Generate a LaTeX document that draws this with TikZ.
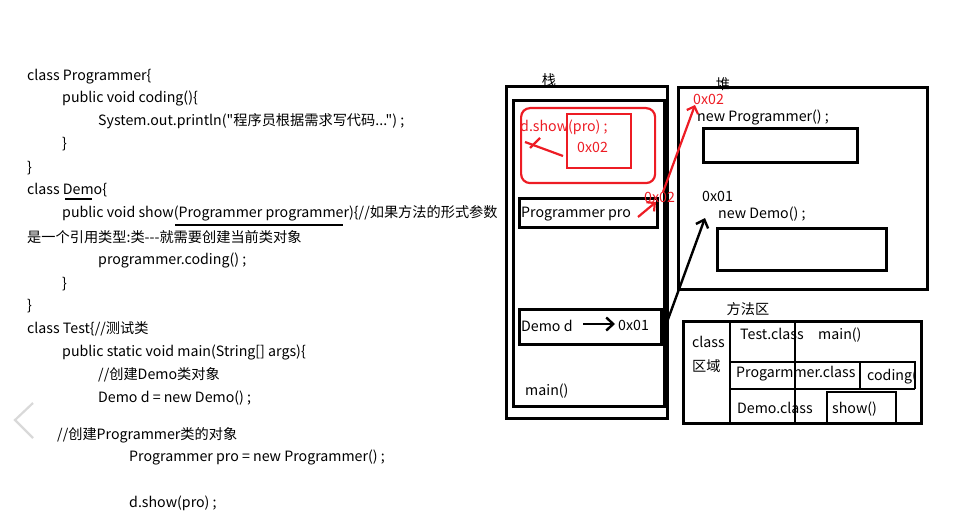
\documentclass[tikz,border=0pt]{standalone}
\usepackage{fontspec}
\newfontfamily\yh{Noto Sans CJK SC}
\usetikzlibrary{arrows.meta}
\definecolor{hred}{RGB}{237,28,36}
\begin{document}
\begin{tikzpicture}[x=1pt,y=-1pt,
  txt/.style={anchor=base west, inner sep=0pt, font=\yh\fontsize{14.2}{16}\selectfont},
  lbl/.style={anchor=center, inner sep=0pt, font=\yh\fontsize{14.2}{16}\selectfont},
  box/.style={draw, line width=2.6pt, inner sep=0pt, anchor=north west},
  rbox/.style={draw=hred, line width=2.2pt, inner sep=0pt, anchor=north west},
  bline/.style={line width=2.6pt},
  rline/.style={hred, line width=2.2pt},
  barrow/.style={line width=2.4pt, -{Straight Barb[length=7pt,width=13pt,line width=2.4pt]}},
  rarrow/.style={hred, line width=2.2pt, -{Straight Barb[length=6pt,width=12pt,line width=2.2pt]}},
  uline/.style={line width=1.8pt}]
\useasboundingbox (0,0) rectangle (967,524);

% ---------- code text ----------
\node[txt] (c1) at (27,80.5) {class Programmer\{};
\node[txt] (c2) at (62,103) {public void coding()\{};
\node[txt] (c3) at (98,126) {System.out.println("程序员根据需求写代码...") ;};
\node[txt] (c4) at (62,149) {\}};
\node[txt] (c5) at (27,172) {\}};
\node[txt] (c6) at (27,195) {class Demo\{};
\node[txt] (c7) at (62,218) {public void show(Programmer programmer)\{//如果方法的形式参数};
\node[txt] (c8) at (27,242) {是一个引用类型:类---就需要创建当前类对象};
\node[txt] (c9) at (98,264) {programmer.coding() ;};
\node[txt] (c10) at (62,288) {\}};
\node[txt] (c11) at (27,310) {\}};
\node[txt] (c12) at (27,333) {class Test\{//测试类};
\node[txt] (c13) at (62,356) {public static void main(String[] args)\{};
\node[txt] (c14) at (98,379) {//创建Demo类对象};
\node[txt] (c15) at (98,402) {Demo d = new Demo() ;};
\node[txt] (c16) at (57,439) {//创建Programmer类的对象};
\node[txt] (c17) at (129,461) {Programmer pro = new Programmer() ;};
\node[txt] (c18) at (129,507) {d.show(pro) ;};

\coordinate (u1a) at (65,199); \coordinate (u1b) at (92,199);
\coordinate (u2a) at (175,225); \coordinate (u2b) at (343,225);
\draw[uline] (u1a) -- (u1b);
\draw[uline] (u2a) -- (u2b);

% gray chevron
\draw[black!15, line width=2.2pt] (33,403) -- (15,420) -- (33,438);

% ---------- stack ----------
\node[box, minimum width=161pt, minimum height=332pt] (stackout) at (505,85) {};
\node[box, minimum width=151pt, minimum height=306pt] (stackin) at (512,99) {};
\node[lbl] (stacklbl) at (549,80) {栈};
\node[rbox, rounded corners=9pt, minimum width=134pt, minimum height=75pt] (frame) at (520,107) {};
\node[rbox, minimum width=64pt, minimum height=54pt] (param) at (566,113) {};
\node[txt, text=hred] (dshow) at (520,132) {d.show(pro) ;};
\node[txt, text=hred] (p02) at (577,152.5) {0x02};
\draw[rline] (525,142) -- (563,156);
\draw[rline] (530,148) -- (540,138);

\node[box, minimum width=138pt, minimum height=29pt] (probox) at (518,197) {};
\node[txt] (protxt) at (521,218) {Programmer pro};
\node[txt, text=hred] (pro02) at (644,202) {0x02};

\node[box, minimum width=142pt, minimum height=35pt] (dbox) at (518,308) {};
\node[txt] (dtxt) at (521,331.5) {Demo d};
\node[txt] (d01) at (618,330) {0x01};
\node[txt] (maintxt) at (525,395) {main()};

% ---------- heap ----------
\node[box, minimum width=249pt, minimum height=202pt] (heap) at (677,86) {};
\node[lbl] (heaplbl) at (723,84) {堆};
\node[txt, text=hred] (h02) at (693,105) {0x02};
\node[txt] (newprog) at (697,121.5) {new Programmer() ;};
\node[box, minimum width=154pt, minimum height=34pt] (progobj) at (702,127) {};
\node[txt] (h01) at (702,201) {0x01};
\node[txt] (newdemo) at (718,218.5) {new Demo() ;};
\node[box, minimum width=169pt, minimum height=42pt] (demoobj) at (716,227) {};

% ---------- method area ----------
\node[lbl] (malbl) at (748,309) {方法区};
\node[box, minimum width=238pt, minimum height=102pt] (ma) at (682,320) {};
\draw[bline] (730,320) -- (730,422);
\draw[bline] (730,362) -- (915,362) -- (915,389);
\draw[bline] (730,389) -- (915,389);
\draw[bline] (860,362) -- (860,389);
\draw[bline] (827,422) -- (827,392) -- (896,392) -- (896,422);
\draw[line width=2pt] (795,323) -- (795,422);
\node[txt] (cls) at (692,347) {class};
\node[lbl, anchor=west] (qy) at (692,366) {区域};
\node[txt] (testc) at (740,339) {Test.class};
\node[txt] (mainm) at (818,339) {main()};
\node[txt] (progc) at (736,377) {Progarmmer.class};
\begin{scope}
\clip (860,362) rectangle (914,389);
\node[txt] (codingm) at (867,380) {coding()};
\end{scope}
\node[txt] (democ) at (737,413) {Demo.class};
\node[txt] (showm) at (832,413) {show()};

% ---------- arrows ----------
\coordinate (da1) at (583,324); \coordinate (da2) at (615,324);
\draw[barrow] (da1) -- (da2);
\coordinate (ba1) at (663,333); \coordinate (ba2) at (705,218);
\draw[barrow] (ba1) -- (ba2);
\coordinate (ra1) at (638,217); \coordinate (ra2) at (656,202);
\draw[rarrow] (ra1) -- (ra2);
\coordinate (rb1) at (663,192); \coordinate (rb2) at (695,105);
\draw[rarrow] (rb1) -- (rb2);
\end{tikzpicture}
\end{document}
